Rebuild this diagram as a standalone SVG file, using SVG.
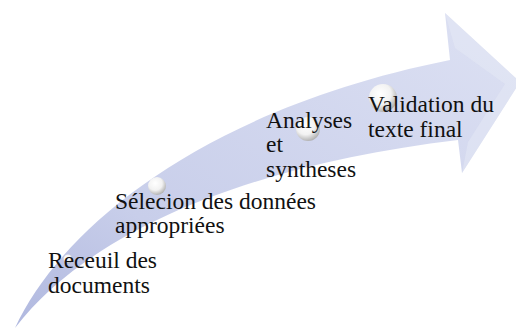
<svg xmlns="http://www.w3.org/2000/svg" width="516" height="329" viewBox="0 0 516 329">
  <style>
    text { font-family: 'Liberation Serif', 'DejaVu Serif', serif; font-size: 23.5px; fill: #111111; }
  </style>
  <defs>
    <linearGradient id="arrowGrad" x1="0" y1="1" x2="1" y2="0">
      <stop offset="0" stop-color="#b0b8df"/>
      <stop offset="0.3" stop-color="#c8ceea"/>
      <stop offset="1" stop-color="#dde1f3"/>
    </linearGradient>
    <radialGradient id="sphere" cx="0.4" cy="0.35" r="0.7">
      <stop offset="0" stop-color="#ffffff"/>
      <stop offset="0.55" stop-color="#f2f2f2"/>
      <stop offset="1" stop-color="#a9a9a9"/>
    </radialGradient>
  </defs>
  <rect width="516" height="329" fill="#ffffff"/>
  <g id="arrow">
    <path d="M15,328 C60,230 200,110 450,60 L445,13 L520,82 L462,173 L458,140 C250,165 90,230 15,328 Z" fill="url(#arrowGrad)"/>
    <path d="M445,13 L520,82 L462,173 L468,142 L505,84 L455,48 Z" fill="#e6e9f6" opacity="0.5"/>
  </g>
  <g id="step1">
    <circle cx="68" cy="259" r="4.5" fill="url(#sphere)"/>
    <text font-family="Liberation Serif, DejaVu Serif, serif" x="48" y="268">Receuil des</text>
    <text font-family="Liberation Serif, DejaVu Serif, serif" x="48" y="293">documents</text>
  </g>
  <g id="step2">
    <circle cx="157" cy="186" r="9" fill="url(#sphere)"/>
    <text font-family="Liberation Serif, DejaVu Serif, serif" x="115" y="209">Sélecion des données</text>
    <text font-family="Liberation Serif, DejaVu Serif, serif" x="115" y="233">appropriées</text>
  </g>
  <g id="step3">
    <circle cx="308" cy="129" r="12" fill="url(#sphere)"/>
    <text font-family="Liberation Serif, DejaVu Serif, serif" x="266" y="128">Analyses</text>
    <text font-family="Liberation Serif, DejaVu Serif, serif" x="266" y="152">et</text>
    <text font-family="Liberation Serif, DejaVu Serif, serif" x="266" y="177">syntheses</text>
  </g>
  <g id="step4">
    <circle cx="383" cy="98" r="14" fill="url(#sphere)"/>
    <text font-family="Liberation Serif, DejaVu Serif, serif" x="368" y="112">Validation du</text>
    <text font-family="Liberation Serif, DejaVu Serif, serif" x="368" y="137">texte final</text>
  </g>
  <g id="connectors"></g>
</svg>
